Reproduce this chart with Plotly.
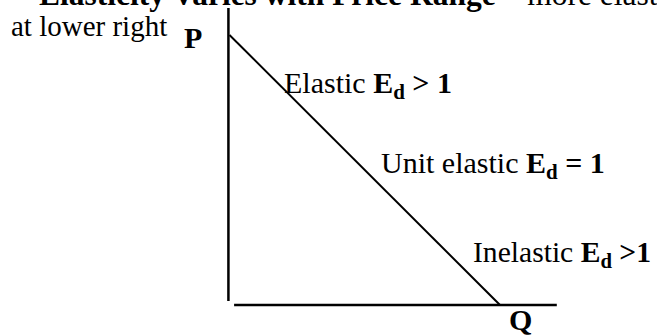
import plotly.graph_objects as go

# ---- data ----
demand_q = [0, 10]          # quantity at the two ends of the demand line
demand_p = [10, 0]          # price at the two ends of the demand line
axis_p_max = 11.0           # extent of the price axis
axis_q_max = 12.1           # extent of the quantity axis

W, H = 657, 335
FONT = "Liberation Serif"

fig = go.Figure()

# demand curve
fig.add_trace(go.Scatter(x=demand_q, y=demand_p, mode="lines",
                         line=dict(color="black", width=2), hoverinfo="skip",
                         showlegend=False))

# axes drawn as lines (with the small gap at the origin seen in the original)
fig.add_shape(type="line", xref="x", yref="y", x0=-0.04, x1=-0.04,
              y0=0.15, y1=axis_p_max, line=dict(color="black", width=2.5))
fig.add_shape(type="line", xref="x", yref="y", x0=0.17, x1=axis_q_max,
              y0=0, y1=0, line=dict(color="black", width=2.5))

def label(text, left, baseline, size=30):
    top = baseline - 0.93 * size
    fig.add_annotation(text=text, xref="paper", yref="paper",
                       x=left / W, y=1 - top / H, xanchor="left", yanchor="top",
                       showarrow=False, borderpad=0,
                       font=dict(family=FONT, size=size, color="black"))

label("<b>Elasticity Varies with Price Range</b> – more elastic", 38, 5, 31.5)
label("at lower right", 10, 36, 29)
label("<b>P</b>", 183, 48)
label("Elastic <b>E<sub>d</sub> > 1</b>", 283, 93)
label("Unit elastic <b>E<sub>d</sub> = 1</b>", 380, 173)
label("Inelastic <b>E<sub>d</sub> >1</b>", 472, 263, 29.6)
label("<b>Q</b>", 508, 330)

kx, x0px = 27.05, 229.5
ky, y0px = 27.0, 305.0
fig.update_layout(
    width=W, height=H, margin=dict(l=0, r=0, t=0, b=0),
    paper_bgcolor="white", plot_bgcolor="white",
    xaxis=dict(range=[-x0px / kx, (W - x0px) / kx], visible=False, fixedrange=True),
    yaxis=dict(range=[(y0px - H) / ky, y0px / ky], visible=False, fixedrange=True),
    showlegend=False,
)

fig.write_html("out.html", config={"displayModeBar": False},
               post_script="document.body.style.margin='0';document.body.style.overflow='hidden';")
